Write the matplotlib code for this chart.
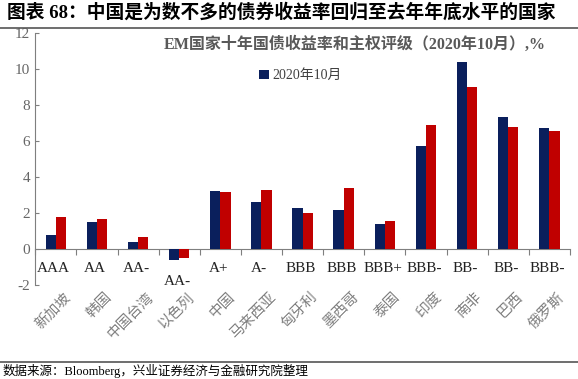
import matplotlib
matplotlib.use("Agg")
import matplotlib.pyplot as plt
import numpy as np

plt.rcParams["font.family"] = ["Liberation Serif", "Noto Sans CJK SC"]
plt.rcParams["axes.unicode_minus"] = False

countries = ["新加坡", "韩国", "中国台湾", "以色列", "中国", "马来西亚", "匈牙利",
             "墨西哥", "泰国", "印度", "南非", "巴西", "俄罗斯"]
ratings = ["AAA", "AA", "AA-", "AA-", "A+", "A-", "BBB", "BBB", "BBB+", "BBB-", "BB-", "BB-", "BBB-"]
yield_oct2020 = [0.80, 1.50, 0.40, -0.60, 3.20, 2.60, 2.25, 2.15, 1.40, 5.70, 10.40, 7.35, 6.72]
yield_other = [1.75, 1.65, 0.65, -0.50, 3.15, 3.30, 2.00, 3.40, 1.55, 6.90, 9.00, 6.80, 6.54]
rating_y = [-1.1, -1.1, -1.1, -1.8, -1.1, -1.1, -1.1, -1.1, -1.1, -1.1, -1.1, -1.1, -1.1]

BLUE = "#0A1F5C"
RED = "#C00000"
GREY = "#7F7F7F"

fig = plt.figure(figsize=(5.78, 3.79), dpi=100)
ax = fig.add_axes([0.061, 0.248, 0.925, 0.665])

x = np.arange(len(countries))
w = 0.25
ax.bar(x - w / 2, yield_oct2020, w, color=BLUE, label="2020年10月", zorder=3)
ax.bar(x + w / 2, yield_other, w, color=RED, zorder=3)

ax.set_xlim(-0.5, len(countries) - 0.5)
ax.set_ylim(-2, 12)
ax.set_yticks(range(-2, 13, 2))
ax.tick_params(axis="y", direction="in", length=3, color=GREY, labelsize=11, labelcolor="#666666")

for s in ["top", "right"]:
    ax.spines[s].set_visible(False)
ax.spines["left"].set_color(GREY)
ax.spines["bottom"].set_color(GREY)
ax.spines["bottom"].set_position(("data", 0))
ax.set_xticks(np.arange(-0.5, len(countries), 1.0))
ax.set_xticklabels([])
ax.tick_params(axis="x", direction="out", length=4, color=GREY)

for i, r in enumerate(ratings):
    ax.text(i - 0.05, rating_y[i], r, ha="center", va="center", fontsize=11, color="#222222")

for i, c in enumerate(countries):
    ax.text(i + 0.2, -2.3, c, ha="right", va="top", rotation=45, fontsize=10.5,
            color=GREY, rotation_mode="anchor")

ax.text(0.955, 0.985, "EM国家十年国债收益率和主权评级（2020年10月）,%", transform=ax.transAxes,
        ha="right", va="top", fontsize=11.5, color="#595959", fontweight="bold")
ax.legend(loc="upper left", bbox_to_anchor=(0.395, 0.905), frameon=False, fontsize=10,
          handlelength=0.7, handleheight=0.7, handletextpad=0.3, labelcolor="#404040")

fig.text(0.012, 0.968, "图表 68：中国是为数不多的债券收益率回归至去年年底水平的国家",
         fontsize=13.5, fontweight="bold", va="center", ha="left")
fig.add_artist(plt.Line2D([0, 1], [0.925, 0.925], color="#555555", linewidth=1.2))
fig.add_artist(plt.Line2D([0, 1], [0.045, 0.045], color="#555555", linewidth=1.2))
fig.text(0.005, 0.022, "数据来源：Bloomberg，兴业证券经济与金融研究院整理", fontsize=9,
         va="center", ha="left")

fig.savefig("out.png", dpi=100)
